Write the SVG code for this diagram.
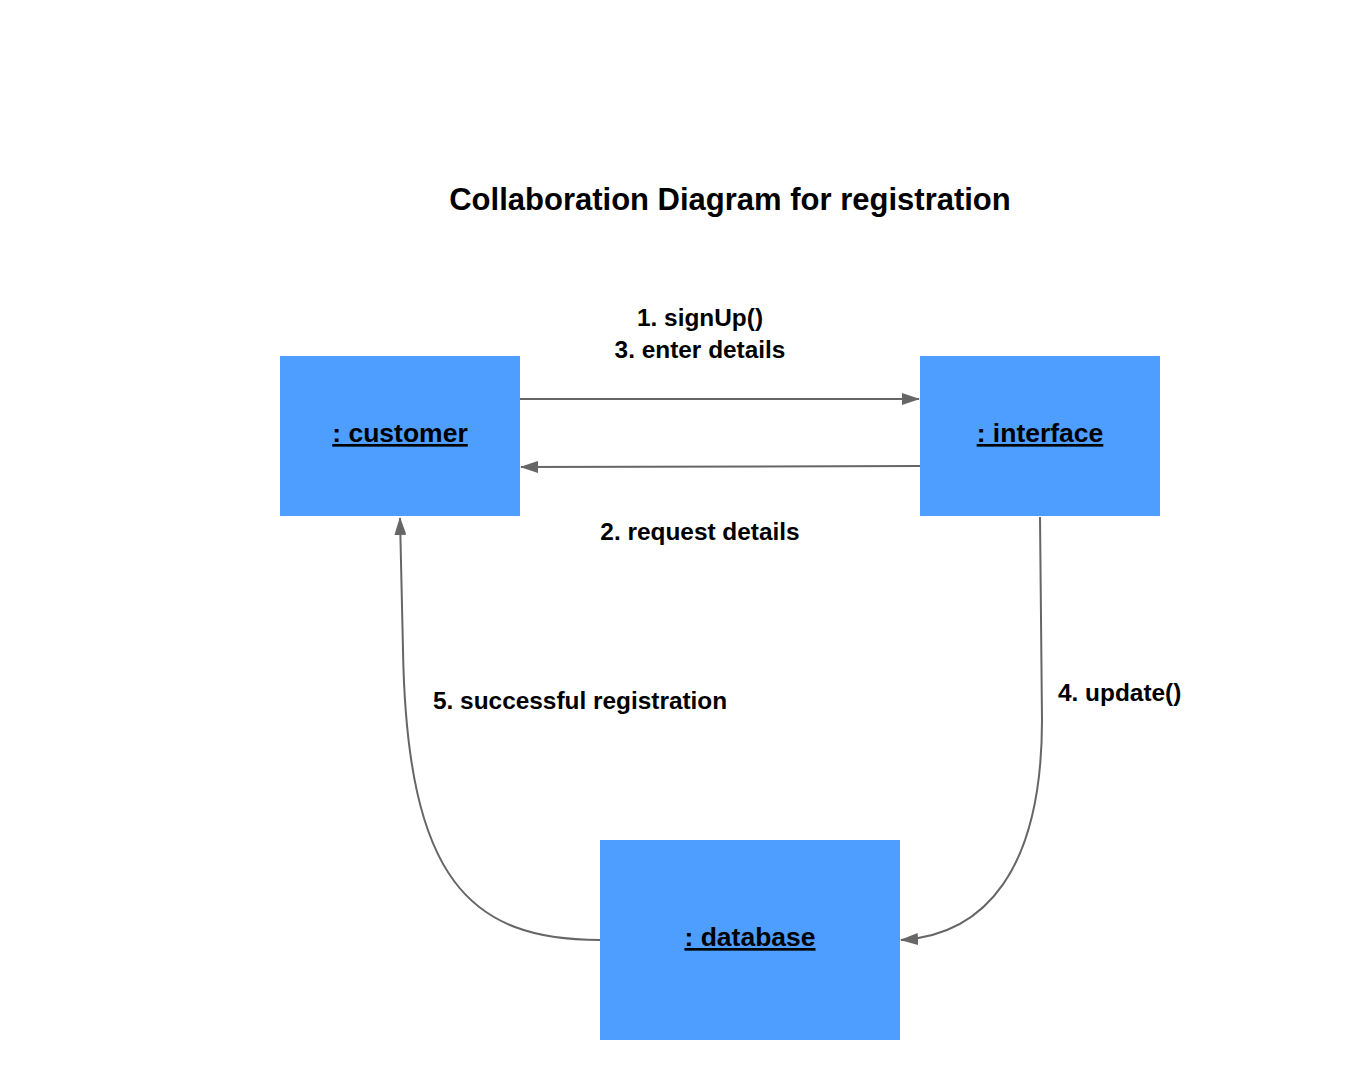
<svg xmlns="http://www.w3.org/2000/svg" width="1360" height="1080" viewBox="0 0 1360 1080">
<style>
.node{fill:#4e9eff;}
.nl{font-family:"Liberation Sans",Arial,sans-serif;font-weight:bold;font-size:26.5px;fill:#000;text-anchor:middle;text-decoration:underline;}
.ml{font-family:"Liberation Sans",Arial,sans-serif;font-weight:bold;font-size:24.4px;fill:#000;}
.title{font-family:"Liberation Sans",Arial,sans-serif;font-weight:bold;font-size:31px;fill:#000;text-anchor:middle;}
.edge{fill:none;stroke:#666;stroke-width:2;marker-end:url(#ah);}
</style>
<defs>
<marker id="ah" markerWidth="18" markerHeight="12" refX="17" refY="6" orient="auto" markerUnits="userSpaceOnUse">
<path d="M0,0 L18,6 L0,12 Z" fill="#666"/>
</marker>
</defs>
<rect width="1360" height="1080" fill="#fff"/>
<text class="title" x="730" y="210">Collaboration Diagram for registration</text>
<g id="connectors">
<path class="edge" d="M520,399 L919,399"/>
<path class="edge" d="M920,466 L521,467"/>
<path class="edge" d="M1040,517 L1042,720 C1042,870 985,935 901,940"/>
<path class="edge" d="M600,940 C470,940 407,880 403,650 L400,518"/>
</g>
<g id="customer"><rect class="node" x="280" y="356" width="240" height="160"/><text class="nl" x="400" y="442">: customer</text></g>
<g id="interface"><rect class="node" x="920" y="356" width="240" height="160"/><text class="nl" x="1040" y="442">: interface</text></g>
<g id="database"><rect class="node" x="600" y="840" width="300" height="200"/><text class="nl" x="750" y="946">: database</text></g>
<g id="labels">
<text class="ml" x="700" y="326" text-anchor="middle">1. signUp()</text>
<text class="ml" x="700" y="358" text-anchor="middle">3. enter details</text>
<text class="ml" x="700" y="540" text-anchor="middle">2. request details</text>
<text class="ml" x="1058" y="701">4. update()</text>
<text class="ml" x="433" y="709">5. successful registration</text>
</g>
</svg>
